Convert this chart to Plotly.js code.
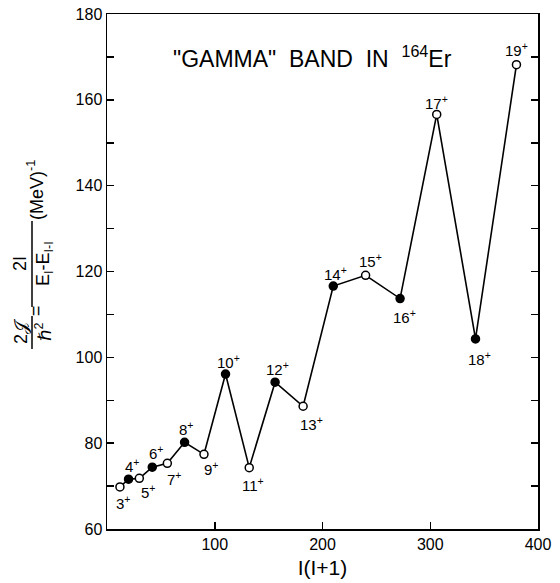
<!DOCTYPE html>
<html>
<head>
<meta charset="utf-8">
<script src="https://cdn.plot.ly/plotly-3.0.1.min.js"></script>
<style>html,body{margin:0;padding:0;background:#fff;}</style>
</head>
<body>
<div id="chart" style="width:560px;height:583px;"></div>
<script>
// ---- data ----
const spins = [3,4,5,6,7,8,9,10,11,12,13,14,15,16,17,18,19];
const xValues = [12,20,30,42,56,72,90,110,132,156,182,210,240,272,306,342,380]; // I(I+1)
const momentOfInertia = [69.8,71.6,71.8,74.4,75.3,80.2,77.4,96.1,74.3,94.2,88.6,116.6,119.1,113.7,156.6,104.3,168.2];
const spinLabels = ["3+","4+","5+","6+","7+","8+","9+","10+","11+","12+","13+","14+","15+","16+","17+","18+","19+"];
const xTickVals = [100,200,300,400];
const xTickText = ["100","200","300","400"];

// ---- label offsets in px (style, not data) ----
const labelShift = [[3,-16],[3,14],[9,-13],[4,15],[7,-15],[1,14],[7,-14],[3,13],[4,-17],[2,14],[8,-17],[2,13],[5,15],[4,-18],[0,12],[4,-20],[0,15]];

const FONT = '"Liberation Sans", "DejaVu Sans", Arial, sans-serif';

const even = spins.map(s => s % 2 === 0);
const trace = {
  x: xValues,
  y: momentOfInertia,
  mode: 'lines+markers',
  line: {color: '#000', width: 1.6},
  marker: {
    size: 8,
    color: even.map(e => e ? '#000' : '#fff'),
    line: {color: '#000', width: 1.5}
  },
  hoverinfo: 'skip',
  showlegend: false
};

// plot area in px for paper conversion
const L = 107, R = 538, T = 14, B = 529;
const px = v => (v - L) / (R - L);
const py = v => (B - v) / (B - T);

const annotations = spinLabels.map((lab, i) => ({
  x: xValues[i], y: momentOfInertia[i], xref: 'x', yref: 'y',
  text: lab.replace('+', '<sup>+</sup>'),
  showarrow: false,
  xshift: labelShift[i][0], yshift: labelShift[i][1],
  font: {family: FONT, size: 15, color: '#000'}
}));

// chart title
annotations.push({
  x: px(312), y: py(40), xref: 'paper', yref: 'paper',
  text: '"GAMMA"\u00A0\u00A0BAND\u00A0\u00A0IN\u00A0\u00A0<sup>164</sup>Er',
  showarrow: false, font: {family: FONT, size: 23, color: '#000'}
});

// y-axis label pieces (rotated)
const yl = (x, y, text, size) => ({
  x: px(x), y: py(y), xref: 'paper', yref: 'paper', text: text,
  textangle: -90, showarrow: false, xanchor: 'center', yanchor: 'middle',
  font: {family: FONT, size: size || 18, color: '#000'}
});
annotations.push(yl(21, 332, '2\uD835\uDCA5'));
annotations.push(yl(43, 332, '\u210F<sup>2</sup>'));
annotations.push(yl(36, 311, '='));
annotations.push(yl(20, 264, '2I'));
annotations.push(yl(44, 264, 'E<sub>I</sub>-E<sub>I-I</sub>'));
annotations.push(yl(35, 190, '(MeV)<sup>-1</sup>'));

const shapes = [
  {type: 'line', xref: 'paper', yref: 'paper', x0: px(32), x1: px(32), y0: py(316), y1: py(349), line: {color: '#000', width: 1.5}},
  {type: 'line', xref: 'paper', yref: 'paper', x0: px(32), x1: px(32), y0: py(221), y1: py(307), line: {color: '#000', width: 1.5}}
];

const layout = {
  width: 560, height: 583,
  margin: {l: L, r: 560 - R, t: T, b: 583 - B},
  paper_bgcolor: '#fff', plot_bgcolor: '#fff',
  font: {family: FONT, color: '#000'},
  showlegend: false,
  xaxis: {
    range: [0, 400], tickvals: xTickVals, ticktext: xTickText,
    ticks: 'inside', ticklen: 7, tickwidth: 1.5, tickcolor: '#000',
    showline: true, linecolor: '#000', linewidth: 1.5, mirror: true,
    showgrid: false, zeroline: false,
    tickfont: {family: FONT, size: 16, color: '#000'},
    title: {text: 'I(I+1)', font: {family: FONT, size: 21, color: '#000'}, standoff: 8}
  },
  yaxis: {
    range: [60, 180], tick0: 60, dtick: 20,
    ticks: 'inside', ticklen: 7, tickwidth: 1.5, tickcolor: '#000',
    minor: {dtick: 10, ticks: 'inside', ticklen: 7, tickwidth: 1.5, tickcolor: '#000'},
    showline: true, linecolor: '#000', linewidth: 1.5, mirror: 'ticks',
    showgrid: false, zeroline: false,
    tickfont: {family: FONT, size: 16, color: '#000'}
  },
  annotations: annotations,
  shapes: shapes
};

Plotly.newPlot('chart', [trace], layout, {staticPlot: true, displayModeBar: false});
</script>
</body>
</html>
